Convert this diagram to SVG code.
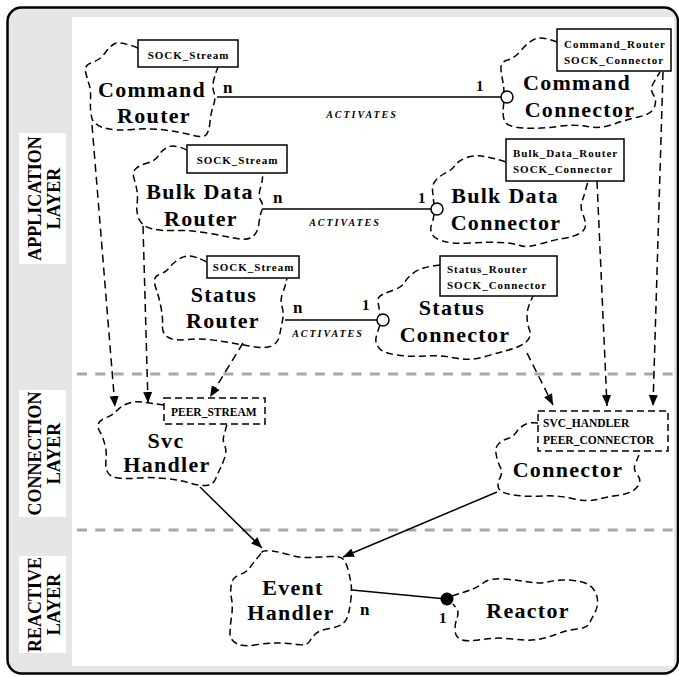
<svg xmlns="http://www.w3.org/2000/svg" width="679" height="677" viewBox="0 0 679 677">
  <style>
    .frame{fill:#e6e6e6;stroke:#000;stroke-width:2.5}
    .panel{fill:#fff}
    .layerbox{fill:#fff}
    .layer{font-family:"Liberation Serif","Times New Roman",serif;font-weight:bold;font-size:18px;text-anchor:middle}
    .sep{stroke:#a8a8a8;stroke-width:3;stroke-dasharray:10 8.3;fill:none}
    .cloud{fill:none;stroke:#000;stroke-width:1.5;stroke-dasharray:7 4}
    .box{fill:#fff;stroke:#000;stroke-width:1.5}
    .dbox{fill:#fff;stroke:#000;stroke-width:1.5;stroke-dasharray:7 4}
    .title{font-family:"Liberation Serif","Times New Roman",serif;font-weight:bold;font-size:22px;letter-spacing:1.3px;text-anchor:middle}
    .cls{font-family:"Liberation Serif","Times New Roman",serif;font-weight:bold;font-size:11px;letter-spacing:1px}
    .mid{text-anchor:middle}
    .tp{font-family:"Liberation Serif","Times New Roman",serif;font-weight:bold;font-size:11.5px}
    .mult{font-family:"Liberation Serif","Times New Roman",serif;font-weight:bold;font-size:17px}
    .one{font-family:"Liberation Serif","Times New Roman",serif;font-weight:bold;font-size:15px}
    .act{font-family:"Liberation Serif","Times New Roman",serif;font-weight:bold;font-style:italic;font-size:10px;letter-spacing:2px;text-anchor:middle}
    .dep{fill:none;stroke:#000;stroke-width:1.5;stroke-dasharray:8 5;marker-end:url(#arrow)}
    .use{fill:none;stroke:#000;stroke-width:1.5;marker-end:url(#arrow)}
    .assoc{fill:none;stroke:#000;stroke-width:1.5}
    .ring{fill:#fff;stroke:#000;stroke-width:1.5}
  </style>
  <defs>
    <marker id="arrow" markerUnits="userSpaceOnUse" markerWidth="12" markerHeight="10" refX="11" refY="4.5" orient="auto">
      <path d="M0,0 L11,4.5 L0,9 Z" fill="#000"/>
    </marker>
  </defs>

  <!-- frame and layer bands -->
  <g id="frame">
    <rect class="frame" x="7.5" y="7.5" width="670.5" height="666" rx="14"/>
    <rect class="panel" x="72" y="17" width="602" height="649"/>
    <rect class="layerbox" x="19" y="133" width="47" height="131"/>
    <rect class="layerbox" x="19" y="390" width="47" height="127"/>
    <rect class="layerbox" x="19" y="556" width="47" height="97"/>
    <text class="layer" transform="translate(41,198.5) rotate(-90)">APPLICATION</text>
    <text class="layer" transform="translate(60,198.5) rotate(-90)">LAYER</text>
    <text class="layer" transform="translate(41,453.5) rotate(-90)">CONNECTION</text>
    <text class="layer" transform="translate(60,453.5) rotate(-90)">LAYER</text>
    <text class="layer" transform="translate(41,604.5) rotate(-90)">REACTIVE</text>
    <text class="layer" transform="translate(60,604.5) rotate(-90)">LAYER</text>
    <path class="sep" d="M77,374 H674"/>
    <path class="sep" d="M77,530 H674"/>
  </g>

  <!-- application layer -->
  <g id="command-router">
    <path class="cloud" d="M138,48 Q120,41 115,43.5 Q110,46 105,53 Q100,60 92,62.5 Q84,65 85.5,71.5 Q87,78 89,84 Q91,90 90.5,101 Q90,112 92,118.5 Q94,125 104.5,128 Q115,131 132.5,129.5 Q150,128 165,130 Q180,132 191.5,135 Q203,138 206,135 Q209,132 210,122 Q211,112 213.5,105 Q216,98 214,92.5 Q212,87 213.5,81 Q215,75 216.5,71 L218,67"/>
    <rect class="box" x="138" y="40" width="100" height="27"/>
    <text class="cls mid" x="188.5" y="58.5">SOCK_Stream</text>
    <text class="title" x="152" y="97">Command</text>
    <text class="title" x="154" y="123">Router</text>
  </g>

  <g id="command-connector">
    <path class="cloud" d="M557,42 Q542,36 535,39 Q528,42 521.5,50 Q515,58 507.5,60 Q500,62 501,70 Q502,78 503.5,84.5 L504,92"/>
    <path class="cloud" d="M504,102 Q502,115 504.5,121 Q507,127 523.5,128 Q540,129 557.5,126.5 Q575,124 587.5,126.5 Q600,129 612.5,124.5 Q625,120 638.5,117 Q652,114 654.5,107 Q657,100 653.5,95 Q650,90 652.5,85 Q655,80 657.5,76 L660,72"/>
    <rect class="box" x="557" y="29" width="114" height="42"/>
    <text class="cls" x="564" y="47.5">Command_Router</text>
    <text class="cls" x="564" y="63.5">SOCK_Connector</text>
    <text class="title" x="577" y="90">Command</text>
    <text class="title" x="580" y="117">Connector</text>
  </g>

  <g id="bulk-data-router">
    <path class="cloud" d="M187,150 Q174,144 168,147 Q162,150 158.5,155.5 Q155,161 147.5,163 Q140,165 136,168.5 Q132,172 134,178.5 Q136,185 137,191 Q138,197 137,204.5 Q136,212 139,219 Q142,226 151,228.5 Q160,231 174,230.5 Q188,230 204,232.5 Q220,235 234,238 Q248,241 253,236.5 Q258,232 259,223 Q260,214 262,210 Q264,206 261,201 Q258,196 260,189.5 Q262,183 262.5,178 L263,173"/>
    <rect class="box" x="187" y="145" width="100" height="28"/>
    <text class="cls mid" x="237.5" y="163.5">SOCK_Stream</text>
    <text class="title" x="200" y="199">Bulk Data</text>
    <text class="title" x="201" y="226">Router</text>
  </g>

  <g id="bulk-data-connector">
    <path class="cloud" d="M506,162 Q490,157 481.5,156 Q473,155 465.5,158 Q458,161 455,165.5 Q452,170 446.5,172.5 Q441,175 436.5,179.5 Q432,184 432.5,190 Q433,196 434,204"/>
    <path class="cloud" d="M434,214 Q433,222 431.5,225 Q430,228 431.5,233 Q433,238 442.5,241 Q452,244 469.5,243 Q487,242 500,242.5 Q513,243 520,245.5 Q527,248 540,244 Q553,240 563,238.5 Q573,237 579.5,233.5 Q586,230 585.5,224.5 Q585,219 582.5,213 Q580,207 582,201.5 Q584,196 586,188.5 L588,181"/>
    <rect class="box" x="506" y="139" width="118" height="42"/>
    <text class="cls" x="513" y="157">Bulk_Data_Router</text>
    <text class="cls" x="513" y="173">SOCK_Connector</text>
    <text class="title" x="505" y="203">Bulk Data</text>
    <text class="title" x="506" y="230">Connector</text>
  </g>

  <g id="status-router">
    <path class="cloud" d="M207,262 Q195,256 189,256 Q183,256 177.5,260 Q172,264 169,268 Q166,272 160.5,274 Q155,276 154.5,279.5 Q154,283 156.5,290 Q159,297 161,307.5 Q163,318 162.5,326 Q162,334 168.5,337.5 Q175,341 187.5,339.5 Q200,338 216.5,340.5 Q233,343 249,346 Q265,349 271.5,346 Q278,343 279.5,335.5 Q281,328 282.5,320.5 Q284,313 282,306.5 Q280,300 282.5,293.5 Q285,287 286,282.5 L287,278"/>
    <rect class="box" x="207" y="256" width="92" height="22"/>
    <text class="cls mid" x="253.5" y="271">SOCK_Stream</text>
    <text class="title" x="224" y="302">Status</text>
    <text class="title" x="223" y="328">Router</text>
  </g>

  <g id="status-connector">
    <path class="cloud" d="M440,265 Q430,266 423.5,268 Q417,270 412,274 Q407,278 404.5,282.5 Q402,287 395,289.5 Q388,292 382.5,294.5 Q377,297 378,302 Q379,307 380,315"/>
    <path class="cloud" d="M380,325 Q377,333 376,338 Q375,343 379,348 Q383,353 396.5,355 Q410,357 425,356 Q440,355 455,358 Q470,361 483.5,357 Q497,353 508.5,350 Q520,347 526,342 Q532,337 529.5,330 Q527,323 527,316.5 Q527,310 529.5,304 L533,296"/>
    <rect class="box" x="440" y="256" width="117" height="40"/>
    <text class="cls" x="447" y="273">Status_Router</text>
    <text class="cls" x="447" y="288.5">SOCK_Connector</text>
    <text class="title" x="452" y="315">Status</text>
    <text class="title" x="455" y="342">Connector</text>
  </g>

  <!-- connection layer -->
  <g id="svc-handler">
    <path class="cloud" d="M164,405 Q150,403 141.5,402 Q133,401 126.5,404 Q120,407 116.5,411 Q113,415 106.5,417.5 Q100,420 98.5,423.5 Q97,427 100,432 Q103,437 105,445 Q107,453 106,460 Q105,467 107.5,472 Q110,477 118.5,478 Q127,479 138.5,478 Q150,477 165,478.5 Q180,480 190,483 Q200,486 206.5,485.5 Q213,485 215.5,479 Q218,473 220.5,468 Q223,463 225,456.5 Q227,450 224.5,445 Q222,440 224.5,433.5 L227,424"/>
    <rect class="dbox" x="164" y="398" width="101" height="26"/>
    <text class="tp" x="171" y="416">PEER_STREAM</text>
    <text class="title" x="166" y="448">Svc</text>
    <text class="title" x="167" y="472">Handler</text>
  </g>

  <g id="connector">
    <path class="cloud" d="M538,423 Q530,422 525,424.5 Q520,427 516.5,432 Q513,437 508,438.5 Q503,440 499,443.5 Q495,447 496,453.5 Q497,460 500,466.5 Q503,473 500,478 Q497,483 498.5,488 Q500,493 513.5,495 Q527,497 542,496 Q557,495 572,498.5 Q587,502 597,499.5 Q607,497 620,495 Q633,493 637.5,486.5 Q642,480 637.5,475 Q633,470 635,465 Q637,460 638.5,456 L640,451"/>
    <rect class="dbox" x="538" y="411" width="130" height="40"/>
    <text class="tp" x="543" y="426.5">SVC_HANDLER</text>
    <text class="tp" x="543" y="443.5">PEER_CONNECTOR</text>
    <text class="title" x="568" y="477">Connector</text>
  </g>

  <!-- reactive layer -->
  <g id="event-handler">
    <path class="cloud" d="M261.5,552.5 Q263,550 271.5,551 Q280,552 290,555 Q300,558 310,557.5 Q320,557 330,556.5 Q340,556 343,559 Q346,562 348,569.5 Q350,577 351,583.5 Q352,590 351,598.5 Q350,607 348.5,613.5 Q347,620 343,623.5 Q339,627 329.5,628.5 Q320,630 316,633.5 Q312,637 309.5,641.5 Q307,646 297,644.5 Q287,643 277,643 Q267,643 255,645 Q243,647 236.5,643.5 Q230,640 230,633.5 Q230,627 231.5,617 Q233,607 231.5,598.5 Q230,590 231.5,583.5 Q233,577 240,574.5 Q247,572 250,567.5 Q253,563 256.5,559 Q260,555 261.5,552.5 Z"/>
    <text class="title" x="293" y="595">Event</text>
    <text class="title" x="291" y="620">Handler</text>
  </g>

  <g id="reactor">
    <path class="cloud" d="M452,596 Q465,592 471.5,589.5 Q478,587 484,582.5 Q490,578 503.5,579 Q517,580 528.5,582 Q540,584 550,581.5 Q560,579 573.5,580.5 Q587,582 592,587.5 Q597,593 597.5,600 Q598,607 594.5,613.5 Q591,620 589,624 Q587,628 577,629 Q567,630 557,634 Q547,638 537,639.5 Q527,641 512,639 Q497,637 482,639.5 Q467,642 461,639.5 Q455,637 455,630 Q455,623 457,618 Q459,613 457,609 L453,604"/>
    <text class="title" x="528" y="618">Reactor</text>
  </g>

  <!-- connectors -->
  <g id="connectors">
    <!-- template instantiation dependencies -->
    <path class="dep" d="M92,125 L115,407"/>
    <path class="dep" d="M143,226 L148,403"/>
    <path class="dep" d="M243,343 L210,397"/>
    <path class="dep" d="M663,72 L653,406"/>
    <path class="dep" d="M597,181 L607,406"/>
    <path class="dep" d="M527,353 L553,405"/>
    <!-- inheritance to Event Handler -->
    <path class="use" d="M200,487 L262,548"/>
    <path class="use" d="M497,492 L343,557"/>

    <!-- ACTIVATES associations -->
    <path class="assoc" d="M217,97 H501"/>
    <circle class="ring" cx="507" cy="97" r="6"/>
    <text class="mult" x="223" y="93">n</text>
    <text class="one" x="476" y="91">1</text>
    <text class="act" x="362" y="118">ACTIVATES</text>

    <path class="assoc" d="M263,209 H431"/>
    <circle class="ring" cx="437" cy="209" r="6"/>
    <text class="mult" x="273" y="203">n</text>
    <text class="one" x="418" y="203">1</text>
    <text class="act" x="345" y="226">ACTIVATES</text>

    <path class="assoc" d="M285,320 H377"/>
    <circle class="ring" cx="383" cy="320" r="6"/>
    <text class="mult" x="293" y="313">n</text>
    <text class="one" x="362" y="310">1</text>
    <text class="act" x="328" y="337">ACTIVATES</text>

    <!-- Event Handler to Reactor -->
    <path class="assoc" d="M352,590 L441,598.5"/>
    <circle cx="447" cy="599" r="6.5" fill="#000"/>
    <text class="mult" x="360" y="615">n</text>
    <text class="one" x="439" y="623">1</text>
  </g>
</svg>
